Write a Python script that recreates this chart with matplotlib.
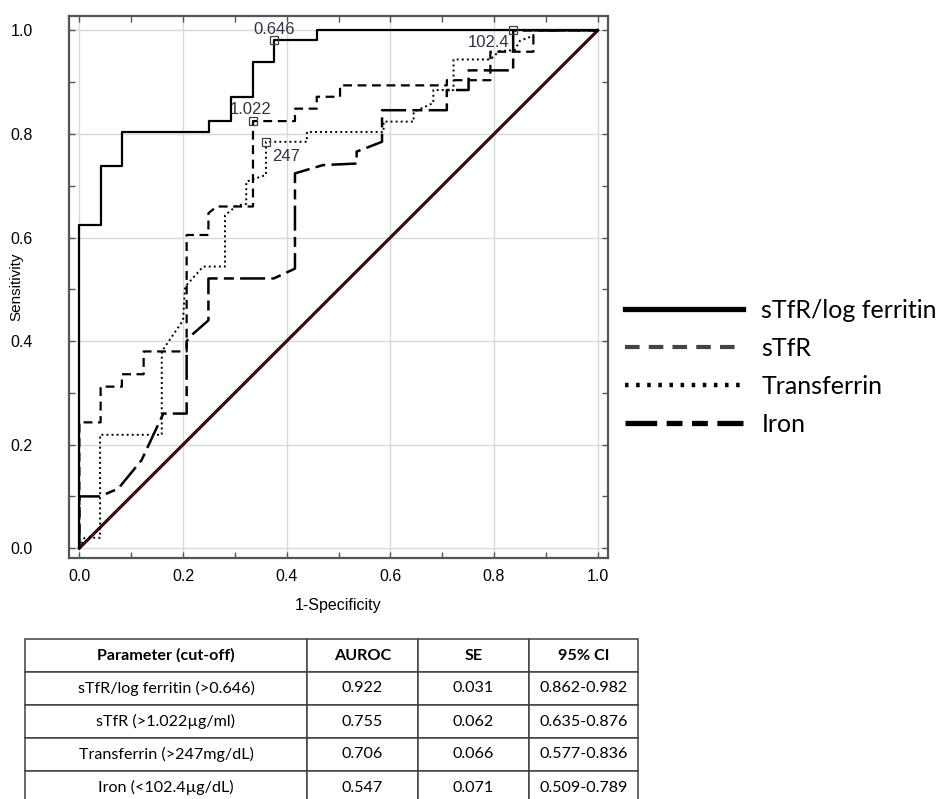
import matplotlib
matplotlib.use("Agg")
import matplotlib.pyplot as plt
from matplotlib.lines import Line2D
from matplotlib.ticker import MultipleLocator

# ROC curve vertices (1-specificity, sensitivity)
ratio_x = [0, 0, 0.041, 0.041, 0.082, 0.082, 0.25, 0.25, 0.292, 0.292, 0.335, 0.335,
           0.376, 0.376, 0.458, 0.458, 1.0]
ratio_y = [0, 0.624, 0.624, 0.738, 0.738, 0.803, 0.803, 0.825, 0.825, 0.872, 0.872, 0.939,
           0.939, 0.981, 0.981, 1.0, 1.0]

stfr_x = [0, 0, 0.041, 0.041, 0.082, 0.082, 0.124, 0.124, 0.207, 0.207, 0.249, 0.249,
          0.265, 0.335, 0.335, 0.416, 0.416, 0.458, 0.458, 0.503, 0.503, 0.709, 0.709,
          0.793, 0.793, 0.876, 0.876, 1.0]
stfr_y = [0, 0.243, 0.243, 0.312, 0.312, 0.336, 0.336, 0.38, 0.38, 0.605, 0.605, 0.647,
          0.66, 0.66, 0.825, 0.825, 0.849, 0.849, 0.872, 0.872, 0.894, 0.894, 0.904,
          0.904, 0.959, 0.959, 1.0, 1.0]

transf_x = [0, 0.01, 0.04, 0.04, 0.159, 0.159, 0.2, 0.204, 0.239, 0.281, 0.281, 0.304,
            0.322, 0.322, 0.36, 0.36, 0.439, 0.439, 0.587, 0.587, 0.645, 0.645, 0.683,
            0.683, 0.722, 0.722, 0.793, 0.81, 0.84, 0.85, 0.876, 0.876, 1.0]
transf_y = [0, 0.02, 0.02, 0.219, 0.219, 0.38, 0.44, 0.505, 0.544, 0.544, 0.643, 0.662,
            0.665, 0.708, 0.721, 0.785, 0.785, 0.804, 0.804, 0.824, 0.824, 0.843, 0.86,
            0.885, 0.885, 0.944, 0.944, 0.96, 0.962, 0.98, 0.99, 1.0, 1.0]

iron_x = [0, 0, 0.04, 0.075, 0.12, 0.162, 0.207, 0.207, 0.217, 0.249, 0.249, 0.375, 0.416,
          0.416, 0.47, 0.535, 0.535, 0.584, 0.584, 0.709, 0.709, 0.751, 0.751, 0.837,
          0.837, 1.0]
iron_y = [0, 0.1, 0.1, 0.115, 0.17, 0.26, 0.26, 0.40, 0.412, 0.44, 0.521, 0.521, 0.54,
          0.724, 0.74, 0.743, 0.766, 0.785, 0.846, 0.846, 0.885, 0.885, 0.923, 0.923,
          1.0, 1.0]

diag_x = [0, 1]
diag_y = [0, 1]

# cut-off points marked on the curves
cut_x = [0.376, 0.335, 0.360, 0.837]
cut_y = [0.981, 0.825, 0.785, 1.0]
cut_labels = ["0.646", "1.022", "247", "102.4"]
cut_offsets = [(0, 11), (-2, 12), (20, -15), (-25, -12)]

legend_labels = ["sTfR/log ferritin", "sTfR", "Transferrin", "Iron"]

table_header = ["Parameter (cut-off)", "AUROC", "SE", "95% CI"]
table_params = ["sTfR/log ferritin (>0.646)", "sTfR (>1.022\u00b5g/ml)",
                "Transferrin (>247mg/dL)", "Iron (<102.4\u00b5g/dL)"]
auroc = ["0.922", "0.755", "0.706", "0.547"]
se = ["0.031", "0.062", "0.066", "0.071"]
ci = ["0.862-0.982", "0.635-0.876", "0.577-0.836", "0.509-0.789"]

W, H = 942, 799
fig = plt.figure(figsize=(W / 100, H / 100), dpi=100)
ax = fig.add_axes([69 / W, 1 - 558 / H, (608 - 69) / W, (558 - 16) / H])

ax.grid(True, color="#d9d9d9", lw=1.0, zorder=0)
ax.plot(diag_x, diag_y, color="black", lw=2.2, zorder=2)
ax.plot(diag_x, diag_y, color="#a01010", lw=0.6, zorder=2)

ax.plot(ratio_x, ratio_y, color="black", lw=1.6, zorder=3)
ax.plot(stfr_x, stfr_y, color="black", lw=1.6, dashes=(4, 2.5), zorder=3)
ax.plot(transf_x, transf_y, color="black", lw=1.4, dashes=(1, 1.6), zorder=3)
ax.plot(iron_x, iron_y, color="black", lw=1.8, dashes=(10, 2.5, 4, 2.5), zorder=3)

ax.plot(cut_x, cut_y, "s", ms=6, mfc="none", mec="#404040", mew=0.9, zorder=4, clip_on=False)
for cx, cy, lab, off in zip(cut_x, cut_y, cut_labels, cut_offsets):
    ax.annotate(lab, (cx, cy), xytext=off, textcoords="offset pixels",
                ha="center", va="center", fontsize=12, color="#2c3346",
                family="Liberation Sans", zorder=5)

ax.set_xlim(-0.02, 1.02)
ax.set_ylim(-0.019, 1.028)
ax.xaxis.set_major_locator(MultipleLocator(0.2))
ax.yaxis.set_major_locator(MultipleLocator(0.2))
ax.xaxis.set_minor_locator(MultipleLocator(0.1))
ax.yaxis.set_minor_locator(MultipleLocator(0.1))
ax.tick_params(which="both", direction="in", top=True, right=True, color="#555555",
               width=1.0, length=4)
ax.tick_params(axis="y", pad=26)
ax.tick_params(axis="x", pad=8)
for t in ax.get_xticklabels() + ax.get_yticklabels():
    t.set_fontfamily("Liberation Sans")
    t.set_fontsize(11.5)
for sp in ax.spines.values():
    sp.set_color("#555555")
    sp.set_linewidth(1.6)

ax.set_xlabel("1-Specificity", family="Liberation Sans", fontsize=11.5, labelpad=10)
ax.set_ylabel("Sensitivity", family="Liberation Sans", fontsize=11)
ax.yaxis.set_label_coords(-46 / 539, 0.5)

handles = [
    Line2D([], [], color="black", lw=3.8),
    Line2D([], [], color="#444444", lw=3.0, dashes=(3.5, 2.2)),
    Line2D([], [], color="black", lw=3.2, dashes=(0.8, 1.7)),
    Line2D([], [], color="black", lw=3.8, dashes=(6, 1.8, 3, 1.8, 3, 1.8)),
]
fig.legend(handles, legend_labels, loc="center left",
           bbox_to_anchor=(625 / W, 1 - 367 / H), frameon=False,
           prop={"family": "Lato", "size": 18}, handlelength=4.7,
           handletextpad=0.75, labelspacing=0.6, borderpad=0, borderaxespad=0)

# summary table below the chart
tax = fig.add_axes([25 / W, 1 - 804 / H, (638 - 25) / W, (804 - 639) / H])
tax.axis("off")
rows = [list(r) for r in zip(table_params, auroc, se, ci)]
tbl = tax.table(cellText=rows, colLabels=table_header, cellLoc="center",
                colWidths=[282, 111, 111, 109], bbox=[0, 0, 1, 1])
tbl.auto_set_font_size(False)
for (r, c), cell in tbl.get_celld().items():
    cell.set_edgecolor("#404040")
    cell.set_linewidth(1.1)
    txt = cell.get_text()
    txt.set_fontfamily("Lato")
    txt.set_fontsize(11.6)
    if r == 0:
        txt.set_fontweight("bold")

fig.savefig("out.png", dpi=100)
